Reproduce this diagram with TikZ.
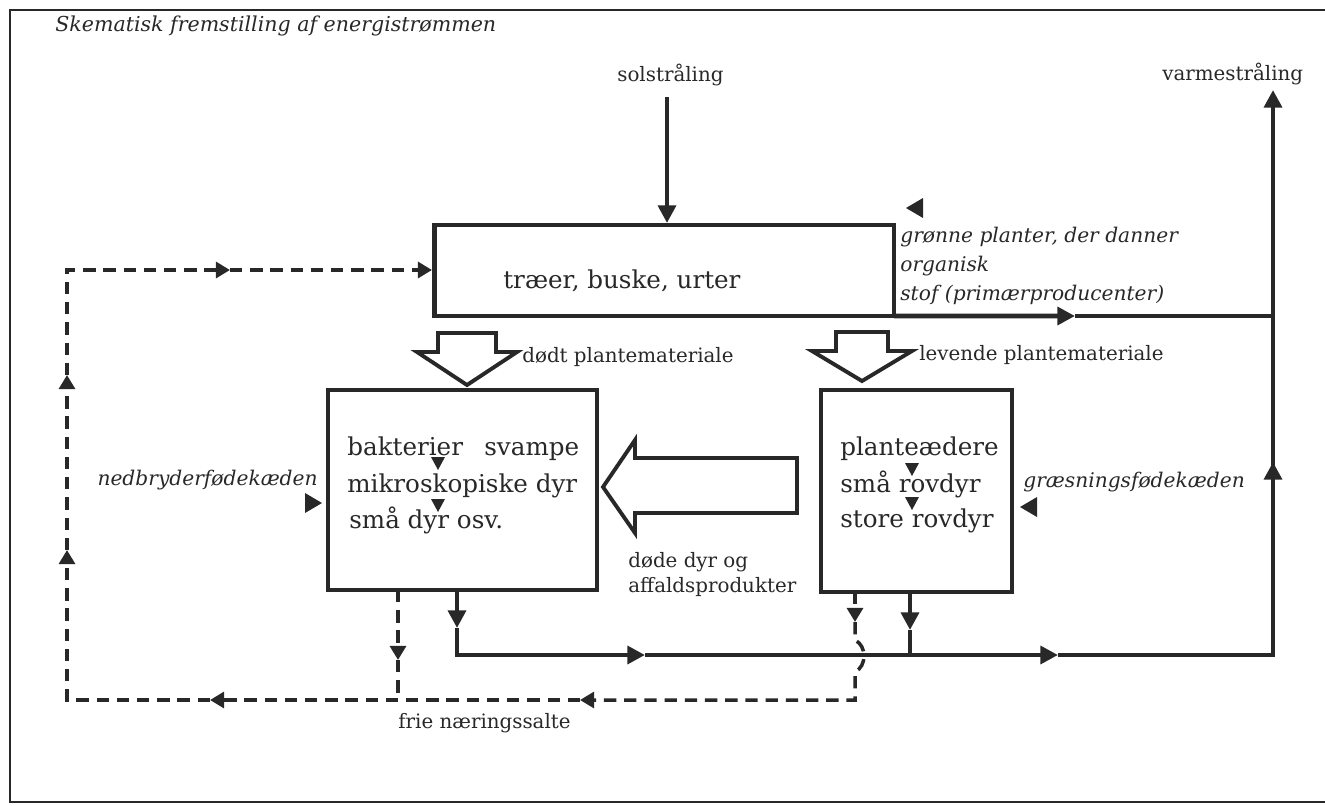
\documentclass[tikz,border=0pt]{standalone}
\usepackage{fontspec}
\setmainfont{DejaVu Serif}
\usetikzlibrary{arrows.meta}
\definecolor{ink}{RGB}{40,40,40}
\begin{document}
\begin{tikzpicture}[x=0.02cm,y=-0.02cm,
  box/.style={draw=ink, line width=2.8pt, inner sep=0pt, outer sep=0pt},
  sl/.style={draw=ink, line width=2.6pt, line join=miter},
  dl/.style={draw=ink, line width=2pt, dash pattern=on 7pt off 4.5pt, line join=miter},
  stip/.style={-{Triangle[length=10pt,width=10pt]}},
  dtip/.style={-{Triangle[length=8pt,width=9pt]}},
  hollow/.style={draw=ink, line width=2.2pt, fill=white, line join=miter},
  lbl/.style={font=\fontsize{11.3}{14}\selectfont, text=ink, inner sep=0pt, anchor=base west},
  ilbl/.style={font=\fontsize{11.5}{16.3}\selectfont\itshape, text=ink, inner sep=0pt, anchor=base west, align=left},
  btxt/.style={font=\fontsize{14}{17}\selectfont, text=ink, inner sep=0pt, anchor=base west},
  pointer/.style={fill=ink}]
\useasboundingbox (0,0) rectangle (1325,805);
% frame
\draw[ink, line width=1.2pt] (1325,10) -- (10,10) -- (10,802) -- (1325,802);

% title and labels
\node[ilbl, font=\fontsize{11.7}{14}\selectfont\itshape] (title) at (55,31) {Skematisk fremstilling af energistrømmen};
\node[lbl] (sol) at (617,81) {solstråling};
\node[lbl] (varme) at (1162,80) {varmestråling};

% boxes
\node[box, minimum width=9.2cm, minimum height=1.82cm] (trae) at (664,270.5) {};
\node[box, minimum width=5.38cm, minimum height=4cm] (ned) at (462.5,490) {};
\node[box, minimum width=3.82cm, minimum height=4.04cm] (gra) at (916.5,491) {};

\node[btxt] (traetxt) at (503,288) {træer, buske, urter};
\node[btxt] (n1) at (347,455) {bakterier};
\node[btxt] (n1b) at (484,455) {svampe};
\node[btxt] (n2) at (347,492) {mikroskopiske dyr};
\node[btxt] (n3) at (349,528) {små dyr osv.};
\node[btxt] (g1) at (840,455) {planteædere};
\node[btxt] (g2) at (840,492) {små rovdyr};
\node[btxt] (g3) at (840,527) {store rovdyr};

% small triangles inside boxes
\fill[pointer] (431,457) -- (445,457) -- (438,470) -- cycle;
\fill[pointer] (431,499) -- (445,499) -- (438,512) -- cycle;
\fill[pointer] (905,463) -- (919,463) -- (912,476) -- cycle;
\fill[pointer] (905,497) -- (919,497) -- (912,510) -- cycle;

% side labels
\node[ilbl] (gron) at (900,300) {grønne planter, der danner\\organisk\\stof (primærproducenter)};
\fill[pointer] (906,208) -- (923,198) -- (923,218) -- cycle;
\node[ilbl, anchor=base east] (nedlbl) at (318,485) {nedbryderfødekæden};
\fill[pointer] (322,503) -- (305,493) -- (305,513) -- cycle;
\node[ilbl] (gralbl) at (1023,487) {græsningsfødekæden};
\fill[pointer] (1020,507) -- (1037,497) -- (1037,517) -- cycle;

\node[lbl] (dodt) at (522,362) {dødt plantemateriale};
\node[lbl] (lev) at (919,360) {levende plantemateriale};
\node[lbl, align=left, font=\fontsize{11.3}{14.2}\selectfont] (dode) at (628,592) {døde dyr og\\affaldsprodukter};
\node[lbl] (frie) at (398,728) {frie næringssalte};

% hollow block arrows
\draw[hollow] (438,333) -- (496,333) -- (496,352) -- (517,352) -- (467,385) -- (417,352) -- (438,352) -- cycle;
\draw[hollow] (836,332) -- (888,332) -- (888,351) -- (912,351) -- (862,381) -- (812,351) -- (836,351) -- cycle;
\draw[hollow] (797,458) -- (635,458) -- (635,440) -- (603,487) -- (635,533) -- (635,513) -- (797,513) -- cycle;

% solar radiation
\coordinate (sunTop) at (667,97);
\coordinate (sunEnd) at (667,223);
\draw[sl, stip] (sunTop) -- (sunEnd);

% primary production line to the right and up
\coordinate (rvA) at (1075,316);
\coordinate (rvB) at (1273,316);
\coordinate (rvBot) at (1273,655);
\coordinate (rvMid) at (1273,462);
\coordinate (rvTop) at (1273,90);
\draw[sl, stip] (trae.south east) -- (rvA);
\draw[sl] (rvA) -- (rvB);
\draw[sl, stip] (rvBot) -- (rvMid);
\draw[sl, stip] (rvMid) -- (rvTop);

% bottom solid line
\coordinate (nS) at (457,590);
\coordinate (nSa) at (457,628);
\coordinate (nC) at (457,655);
\coordinate (hA) at (645,655);
\coordinate (hB) at (1058,655);
\draw[sl, stip] (nS) -- (nSa);
\draw[sl, stip] (nSa) -- (nC) -- (hA);
\draw[sl, stip] (hA) -- (hB);
\draw[sl] (hB) -- (rvBot) -- (rvMid);
\coordinate (gS) at (910,592);
\coordinate (gSa) at (910,630);
\coordinate (gC) at (910,655);
\draw[sl, stip] (gS) -- (gSa);
\draw[sl] (gSa) -- (gC);

% dashed nutrient loop
\coordinate (dS) at (855,592);
\coordinate (dSa) at (855,622);
\coordinate (dB1) at (855,640);
\coordinate (dB2) at (855,672);
\coordinate (dC) at (855,700);
\coordinate (dL1) at (580,700);
\coordinate (dL2) at (210,700);
\coordinate (dLC) at (67,700);
\coordinate (dU1) at (67,550);
\coordinate (dU2) at (67,375);
\coordinate (dTC) at (67,270);
\coordinate (dR1) at (230,270);
\coordinate (dR2) at (432,270);
\draw[dl, dtip] (dS) -- (dSa);
\draw[dl, dtip] (dSa) -- (dB1) .. controls (867,646) and (867,666) .. (dB2) -- (dC) -- (dL1);
\draw[dl, dtip] (dL1) -- (dL2);
\draw[dl, dtip] (dL2) -- (dLC) -- (dU1);
\draw[dl, dtip] (dU1) -- (dU2);
\draw[dl, dtip] (dU2) -- (dTC) -- (dR1);
\draw[dl, dtip] (dR1) -- (dR2);
\coordinate (eS) at (398,590);
\coordinate (eSa) at (398,660);
\coordinate (eC) at (398,700);
\draw[dl, dtip] (eS) -- (eSa);
\draw[dl] (eSa) -- (eC);
\end{tikzpicture}
\end{document}
